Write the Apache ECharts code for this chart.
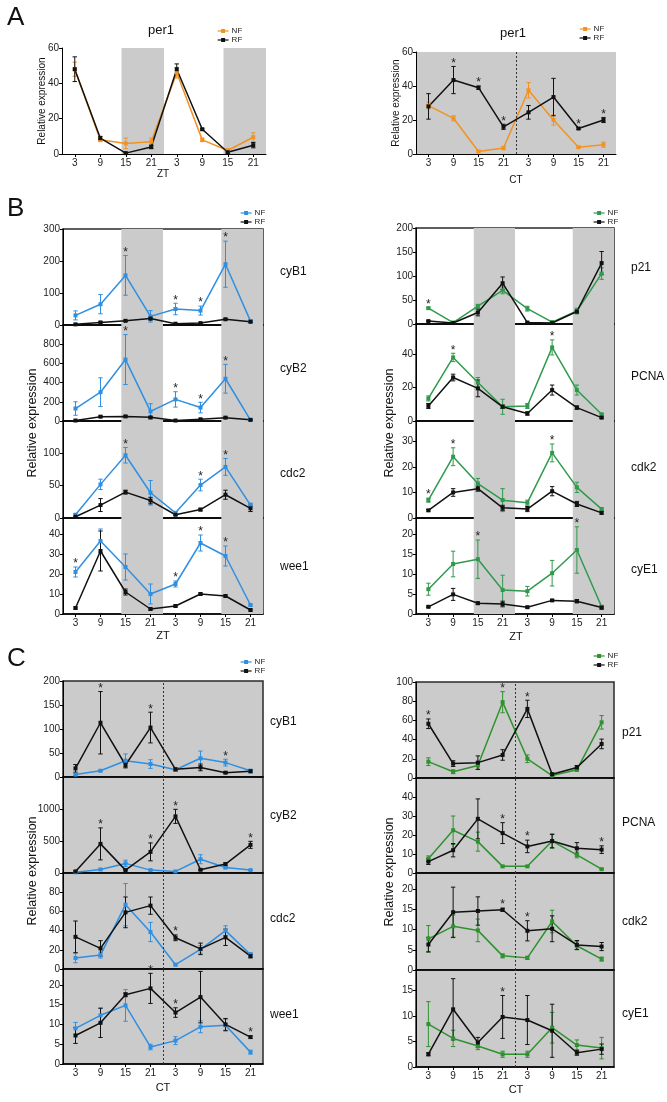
<!DOCTYPE html>
<html>
<head>
<meta charset="utf-8">
<script src="https://cdn.jsdelivr.net/npm/echarts@6/dist/echarts.min.js"></script>
<style>
  html, body { margin: 0; padding: 0; background: #fff; }
  #chart { width: 667px; height: 1102px; }
</style>
</head>
<body>
<div id="chart"></div>
<script>
// time points (hours over two days) and the tick labels under them
const HOURS = [3, 9, 15, 21, 27, 33, 39, 45]
const TICK_LABELS = ['3', '9', '15', '21', '3', '9', '15', '21']

// A: per1
const perZtNF = [48, 8, 6, 7, 46, 8, 2, 9.5]
const perZtNFErr = [4, 1, 3, 2, 3, 1, 1, 2.5]
const perZtRF = [48, 9, 0.5, 4, 48, 14, 1, 5]
const perZtRFErr = [7, 1, 0.5, 1, 3, 0.5, 0.5, 1.5]
const perZtStars = []

const perCtNF = [28.5, 21, 1.5, 3.5, 37.5, 20, 4, 5.5]
const perCtNFErr = [2, 1.5, 0.5, 1, 4.5, 3, 0.5, 1.5]
const perCtRF = [28, 43.5, 39, 16, 24.5, 33.5, 15, 20]
const perCtRFErr = [7.5, 8, 1, 1.5, 4, 11, 0.5, 1.5]
const perCtStars = [1, 2, 3, 6, 7]

// B left (ZT)
const bCyB1NF = [30, 65, 155, 27, 50, 45, 190, 12]
const bCyB1NFErr = [14, 30, 62, 18, 18, 14, 72, 4]
const bCyB1RF = [2, 8, 13, 20, 4, 6, 18, 10]
const bCyB1RFErr = [1, 2, 2, 4, 1, 1, 2, 2]
const bCyB1Stars = [2, 4, 5, 6]

const bCyB2NF = [130, 300, 640, 100, 225, 140, 440, 10]
const bCyB2NFErr = [70, 150, 260, 80, 80, 55, 150, 5]
const bCyB2RF = [5, 45, 48, 38, 5, 18, 35, 12]
const bCyB2RFErr = [3, 8, 8, 8, 2, 5, 8, 4]
const bCyB2Stars = [2, 4, 5, 6]

const bCdc2NF = [5, 52, 97, 39, 8, 51, 79, 20]
const bCdc2NFErr = [2, 8, 12, 19, 2, 9, 13, 3]
const bCdc2RF = [2, 20, 40, 27, 5, 13, 36, 15]
const bCdc2RFErr = [1, 10, 3, 5, 1, 2, 7, 5]
const bCdc2Stars = [2, 5, 6]

const bWee1NF = [21, 36.5, 23.5, 10, 15, 35.5, 29, 4.5]
const bWee1NFErr = [2.5, 6, 6.5, 5, 1.5, 4, 5, 0.5]
const bWee1RF = [3, 31.5, 11, 2.5, 4, 10, 9, 2]
const bWee1RFErr = [0.5, 10, 1.5, 0.5, 0.5, 0.5, 0.5, 0.5]
const bWee1Stars = [0, 4, 5, 6]

// B right (ZT)
const bP21NF = [33, 3, 37, 70, 32, 4, 27, 105]
const bP21NFErr = [2, 1, 4, 7, 5, 1, 6, 12]
const bP21RF = [6, 2, 24, 85, 3, 2, 26, 127]
const bP21RFErr = [1, 1, 7, 13, 1, 1, 3, 24]
const bP21Stars = [0]

const bPcnaNF = [13.5, 38, 23, 8.5, 9, 44, 18.5, 4]
const bPcnaNFErr = [1.5, 2.5, 3, 4.5, 1.5, 4.5, 3, 0.5]
const bPcnaRF = [9, 26, 19.5, 8.5, 4.5, 18.5, 8, 2]
const bPcnaRFErr = [1.5, 2, 5, 1, 1, 3, 1, 0.5]
const bPcnaStars = [1, 5]

const bCdk2NF = [7, 24, 13.5, 7, 6, 25.5, 12, 3.5]
const bCdk2NFErr = [0.8, 3.5, 2, 4.5, 1, 3.5, 2, 0.5]
const bCdk2RF = [3, 10, 11.5, 4, 3.5, 10.5, 5.5, 2]
const bCdk2RFErr = [0.3, 1.5, 1, 1, 1, 1.8, 1, 0.5]
const bCdk2Stars = [0, 1, 5]

const bCyE1NF = [6.2, 12.5, 13.7, 6, 5.7, 10.2, 16, 1.8]
const bCyE1NFErr = [1.5, 3.2, 4.8, 3.7, 1.2, 3.2, 5.8, 0.3]
const bCyE1RF = [1.8, 4.9, 2.7, 2.5, 1.7, 3.4, 3.2, 1.6]
const bCyE1RFErr = [0.2, 1.5, 0.3, 0.7, 0.2, 0.2, 0.4, 0.4]
const bCyE1Stars = [2, 6]

// C left (CT)
const cCyB1NF = [5, 13, 34, 27, 15, 39, 30, 13]
const cCyB1NFErr = [2, 2, 14, 9, 3, 15, 7, 3]
const cCyB1RF = [18, 113, 25, 103, 16, 20, 9, 12]
const cCyB1RFErr = [8, 65, 6, 32, 3, 7, 2, 3]
const cCyB1Stars = [1, 3, 6]

const cCyB2NF = [10, 55, 150, 45, 25, 215, 85, 45]
const cCyB2NFErr = [5, 10, 50, 10, 5, 70, 15, 8]
const cCyB2RF = [25, 455, 45, 330, 885, 50, 140, 440]
const cCyB2RFErr = [8, 250, 10, 140, 110, 10, 20, 55]
const cCyB2Stars = [1, 3, 4, 7]

const cCdc2NF = [11.5, 14.5, 67, 38.5, 4.5, 20.5, 40, 15]
const cCdc2NFErr = [5, 3, 22, 10, 1, 4, 5, 2]
const cCdc2RF = [33.5, 21.5, 59, 66, 32.5, 21, 33, 13.5]
const cCdc2RFErr = [16.5, 8, 16, 9, 3, 6, 8.5, 2]
const cCdc2Stars = [4]

const cWee1NF = [9, 12.3, 14.8, 4.3, 5.9, 9.4, 9.8, 3]
const cWee1NFErr = [1.5, 1.8, 4, 0.7, 1, 1.5, 1.5, 0.5]
const cWee1RF = [7.2, 10.4, 17.5, 19.1, 13, 16.9, 10, 6.8]
const cWee1RFErr = [2, 3.7, 0.5, 3.8, 1.2, 6.5, 1.5, 0.3]
const cWee1Stars = [3, 4, 7]

// C right (CT)
const cP21NF = [17, 6.5, 13, 79, 20, 2.5, 8.5, 58]
const cP21NFErr = [4, 2, 4, 11, 4, 1, 1.5, 7]
const cP21RF = [56.5, 15, 16, 24, 72, 4, 11, 35.5]
const cP21RFErr = [5, 3, 7, 5.5, 9, 1, 2, 5]
const cP21Stars = [0, 3, 4]

const cPcnaNF = [7.5, 22.5, 16.5, 3.5, 3.5, 16.8, 9.5, 2]
const cPcnaNFErr = [1.5, 7.5, 5, 0.3, 0.3, 3.8, 1.5, 0.3]
const cPcnaRF = [6, 12, 28.5, 21, 14, 16.8, 13, 12.3]
const cPcnaRFErr = [1.5, 3.5, 10.5, 5.5, 3.3, 3.5, 3, 2]
const cPcnaStars = [3, 4, 7]

const cCdk2NF = [7.7, 10.8, 9.8, 3.5, 3, 12, 6, 2.7]
const cCdk2NFErr = [3.3, 2.8, 2.8, 0.5, 0.4, 2.8, 1, 0.5]
const cCdk2RF = [6.3, 14.3, 14.6, 14.9, 9.7, 10.2, 6.2, 5.8]
const cCdk2RFErr = [1.8, 6.2, 3.5, 0.4, 2.5, 3.2, 1.1, 1]
const cCdk2Stars = [3, 4]

const cCyE1NF = [8.4, 5.6, 4.1, 2.5, 2.5, 7.7, 4.3, 3.7]
const cCyE1NFErr = [4.4, 1.6, 0.7, 0.6, 0.6, 3, 1, 2.1]
const cCyE1RF = [2.5, 11.3, 4.8, 9.8, 9.2, 7.1, 2.8, 3.5]
const cCyE1RFErr = [0.3, 6, 1, 4.2, 4.8, 5.2, 0.5, 1]
const cCyE1Stars = [3]

const FONT = 'Liberation Sans, Arial, sans-serif'
const ORANGE = '#F39221'
const BLUE = '#2F8FE2'
const GREEN_B = '#2F9A4C'
const GREEN_C = '#2E922E'
const BLACK = '#111111'
const SHADE = '#CBCBCB'

const grids = []
const xAxes = []
const yAxes = []
const series = []

const errorBarSeries = (idx, values, errs, color) => ({
  type: 'custom',
  xAxisIndex: idx,
  yAxisIndex: idx,
  silent: true,
  z: 3,
  clip: false,
  data: HOURS.map((h, k) => [h, values[k], errs[k]]),
  renderItem: (params, api) => {
    const x = api.value(0)
    const y = api.value(1)
    const e = api.value(2)
    const lo = api.coord([x, Math.max(0, y - e)])
    const hi = api.coord([x, y + e])
    const w = 2.2
    const style = { stroke: color, lineWidth: 1 }
    return {
      type: 'group',
      children: [
        { type: 'line', shape: { x1: lo[0], y1: lo[1], x2: hi[0], y2: hi[1] }, style },
        { type: 'line', shape: { x1: hi[0] - w, y1: hi[1], x2: hi[0] + w, y2: hi[1] }, style },
        { type: 'line', shape: { x1: lo[0] - w, y1: lo[1], x2: lo[0] + w, y2: lo[1] }, style }
      ]
    }
  }
})

const addPanel = (p) => {
  const idx = grids.length
  const ct = p.mode === 'ct'
  grids.push({
    left: p.left,
    top: p.top,
    width: p.width,
    height: p.height,
    show: p.frame || ct,
    borderColor: p.frame ? '#2a2a2a' : 'transparent',
    borderWidth: p.frame ? 1.5 : 0,
    backgroundColor: ct ? SHADE : 'transparent'
  })
  xAxes.push({
    type: 'value',
    gridIndex: idx,
    min: 0,
    max: 48,
    splitLine: { show: false },
    axisLine: { show: true, lineStyle: { color: '#000', width: p.frame ? 1.5 : 1 } },
    axisTick: {
      show: p.bottom,
      customValues: HOURS,
      length: 3,
      lineStyle: { color: '#000' }
    },
    axisLabel: {
      show: p.bottom,
      customValues: HOURS,
      formatter: (v) => TICK_LABELS[HOURS.indexOf(v)],
      fontSize: 10,
      margin: 4,
      color: '#222',
      fontFamily: FONT
    }
  })
  yAxes.push({
    type: 'value',
    gridIndex: idx,
    min: 0,
    max: p.max,
    interval: p.interval,
    splitLine: { show: false },
    axisLine: { show: true, lineStyle: { color: '#000', width: 1 } },
    axisTick: { show: true, length: 3, lineStyle: { color: '#000' } },
    axisLabel: {
      fontSize: 10,
      margin: 3,
      color: '#222',
      fontFamily: FONT,
      showMaxLabel: p.showMax,
      formatter: (v) => String(v)
    }
  })

  // shading for dark phases, or the dotted day boundary in constant dark
  series.push({
    type: 'line',
    name: '_shade',
    xAxisIndex: idx,
    yAxisIndex: idx,
    data: [],
    z: 1,
    silent: true,
    markArea: ct ? undefined : {
      silent: true,
      itemStyle: { color: SHADE },
      data: [[{ xAxis: 14 }, { xAxis: 24 }], [{ xAxis: 38 }, { xAxis: 48 }]]
    },
    markLine: ct ? {
      silent: true,
      symbol: 'none',
      label: { show: false },
      lineStyle: { color: '#333', type: [2, 2], width: 1 },
      data: [{ xAxis: 24 }]
    } : undefined
  })

  const lines = [
    { name: 'NF', values: p.nf, errs: p.nfErr, color: p.nfColor },
    { name: 'RF', values: p.rf, errs: p.rfErr, color: BLACK }
  ]
  lines.forEach((l) => {
    series.push(errorBarSeries(idx, l.values, l.errs, l.color))
    series.push({
      type: 'line',
      name: l.name,
      xAxisIndex: idx,
      yAxisIndex: idx,
      data: HOURS.map((h, k) => [h, l.values[k]]),
      symbol: 'rect',
      symbolSize: 4,
      showAllSymbol: true,
      lineStyle: { width: 1.5, color: l.color },
      itemStyle: { color: l.color },
      z: 4
    })
  })

  series.push({
    type: 'custom',
    xAxisIndex: idx,
    yAxisIndex: idx,
    silent: true,
    clip: false,
    z: 5,
    data: p.stars.map((k) => [HOURS[k], Math.max(p.nf[k] + p.nfErr[k], p.rf[k] + p.rfErr[k])]),
    renderItem: (params, api) => {
      const pt = api.coord([api.value(0), api.value(1)])
      return {
        type: 'text',
        x: pt[0],
        y: pt[1] + 3,
        style: {
          text: '*',
          fontSize: 12,
          fontFamily: FONT,
          fill: '#222',
          textAlign: 'center',
          textVerticalAlign: 'bottom'
        }
      }
    }
  })
}

// A
addPanel({ left: 62, top: 48, width: 204, height: 106, mode: 'zt', frame: false, bottom: true,
  nf: perZtNF, nfErr: perZtNFErr, rf: perZtRF, rfErr: perZtRFErr, stars: perZtStars,
  max: 60, interval: 20, showMax: true, nfColor: ORANGE })
addPanel({ left: 416, top: 52, width: 200, height: 102, mode: 'ct', frame: false, bottom: true,
  nf: perCtNF, nfErr: perCtNFErr, rf: perCtRF, rfErr: perCtRFErr, stars: perCtStars,
  max: 60, interval: 20, showMax: true, nfColor: ORANGE })

// B and C stacks
const stacks = [
  { left: 63, width: 200, tops: [229, 325, 421, 518], heights: [96, 96, 97, 96], mode: 'zt', color: BLUE,
    genes: [
      [bCyB1NF, bCyB1NFErr, bCyB1RF, bCyB1RFErr, bCyB1Stars, 300, 100, true],
      [bCyB2NF, bCyB2NFErr, bCyB2RF, bCyB2RFErr, bCyB2Stars, 1000, 200, false],
      [bCdc2NF, bCdc2NFErr, bCdc2RF, bCdc2RFErr, bCdc2Stars, 150, 50, false],
      [bWee1NF, bWee1NFErr, bWee1RF, bWee1RFErr, bWee1Stars, 48, 10, false]
    ] },
  { left: 416, width: 198, tops: [228, 324, 421, 518], heights: [96, 97, 97, 96], mode: 'zt', color: GREEN_B,
    genes: [
      [bP21NF, bP21NFErr, bP21RF, bP21RFErr, bP21Stars, 200, 50, true],
      [bPcnaNF, bPcnaNFErr, bPcnaRF, bPcnaRFErr, bPcnaStars, 58, 20, false],
      [bCdk2NF, bCdk2NFErr, bCdk2RF, bCdk2RFErr, bCdk2Stars, 38, 10, false],
      [bCyE1NF, bCyE1NFErr, bCyE1RF, bCyE1RFErr, bCyE1Stars, 24, 5, false]
    ] },
  { left: 63, width: 200, tops: [681, 777, 873, 969], heights: [96, 96, 96, 95], mode: 'ct', color: BLUE,
    genes: [
      [cCyB1NF, cCyB1NFErr, cCyB1RF, cCyB1RFErr, cCyB1Stars, 200, 50, true],
      [cCyB2NF, cCyB2NFErr, cCyB2RF, cCyB2RFErr, cCyB2Stars, 1500, 500, false],
      [cCdc2NF, cCdc2NFErr, cCdc2RF, cCdc2RFErr, cCdc2Stars, 100, 20, false],
      [cWee1NF, cWee1NFErr, cWee1RF, cWee1RFErr, cWee1Stars, 24, 5, false]
    ] },
  { left: 416, width: 198, tops: [682, 778, 873, 970], heights: [96, 95, 97, 97], mode: 'ct', color: GREEN_C,
    genes: [
      [cP21NF, cP21NFErr, cP21RF, cP21RFErr, cP21Stars, 100, 20, true],
      [cPcnaNF, cPcnaNFErr, cPcnaRF, cPcnaRFErr, cPcnaStars, 50, 10, false],
      [cCdk2NF, cCdk2NFErr, cCdk2RF, cCdk2RFErr, cCdk2Stars, 24, 5, false],
      [cCyE1NF, cCyE1NFErr, cCyE1RF, cCyE1RFErr, cCyE1Stars, 19, 5, false]
    ] }
]

stacks.forEach((s) => {
  s.genes.forEach((g, i) => {
    addPanel({
      left: s.left, top: s.tops[i], width: s.width, height: s.heights[i],
      mode: s.mode, frame: true, bottom: i === s.genes.length - 1,
      nf: g[0], nfErr: g[1], rf: g[2], rfErr: g[3], stars: g[4],
      max: g[5], interval: g[6], showMax: g[7], nfColor: s.color
    })
  })
})

const legendAt = (left, nfY, nfColor) => ({
  orient: 'vertical',
  left,
  top: nfY - 4.5,
  padding: 0,
  itemGap: 0,
  itemWidth: 11,
  itemHeight: 5,
  selectedMode: false,
  textStyle: { fontSize: 8, lineHeight: 9, fontFamily: FONT, color: '#222', padding: [0, 0, 0, -2] },
  data: [
    { name: 'NF', itemStyle: { color: nfColor }, lineStyle: { color: nfColor, width: 1.2 } },
    { name: 'RF', itemStyle: { color: BLACK }, lineStyle: { color: BLACK, width: 1.2 } }
  ]
})

const text = (x, y, str, size, opts = {}) => ({
  type: 'text',
  x,
  y,
  rotation: opts.rotate ? Math.PI / 2 : 0,
  silent: true,
  style: {
    text: str,
    fontSize: size,
    fontFamily: FONT,
    fill: '#111',
    textAlign: opts.align || 'center',
    textVerticalAlign: 'middle'
  }
})

const graphics = [
  text(7, 18, 'A', 26, { align: 'left' }),
  text(7, 209, 'B', 26, { align: 'left' }),
  text(7, 659, 'C', 26, { align: 'left' }),
  text(161, 30, 'per1', 13),
  text(513, 33, 'per1', 13),
  text(42, 101, 'Relative expression', 10, { rotate: true }),
  text(396, 103, 'Relative expression', 10, { rotate: true }),
  text(163, 174, 'ZT', 10),
  text(516, 180, 'CT', 10),
  text(33, 423, 'Relative expression', 12.5, { rotate: true }),
  text(390, 423, 'Relative expression', 12.5, { rotate: true }),
  text(163, 636, 'ZT', 11),
  text(516, 637, 'ZT', 11),
  text(33, 871, 'Relative expression', 12.5, { rotate: true }),
  text(390, 872, 'Relative expression', 12.5, { rotate: true }),
  text(163, 1088, 'CT', 11),
  text(516, 1090, 'CT', 11)
]

const geneLabels = [
  [280, ['cyB1', 'cyB2', 'cdc2', 'wee1'], [272, 369, 474, 567]],
  [631, ['p21', 'PCNA', 'cdk2', 'cyE1'], [268, 377, 468, 570]],
  [270, ['cyB1', 'cyB2', 'cdc2', 'wee1'], [722, 816, 919, 1015]],
  [622, ['p21', 'PCNA', 'cdk2', 'cyE1'], [733, 823, 922, 1014]]
]
geneLabels.forEach(([x, names, ys]) => {
  names.forEach((n, i) => graphics.push(text(x, ys[i], n, 12, { align: 'left' })))
})

const chart = echarts.init(document.getElementById('chart'), null, { renderer: 'canvas' })
chart.setOption({
  animation: false,
  backgroundColor: '#fff',
  textStyle: { fontFamily: FONT },
  grid: grids,
  xAxis: xAxes,
  yAxis: yAxes,
  legend: [
    legendAt(217, 31, ORANGE),
    legendAt(579, 29, ORANGE),
    legendAt(240, 213, BLUE),
    legendAt(593, 213, GREEN_B),
    legendAt(240, 662, BLUE),
    legendAt(593, 656, GREEN_C)
  ],
  series,
  graphic: graphics
})
</script>
</body>
</html>
